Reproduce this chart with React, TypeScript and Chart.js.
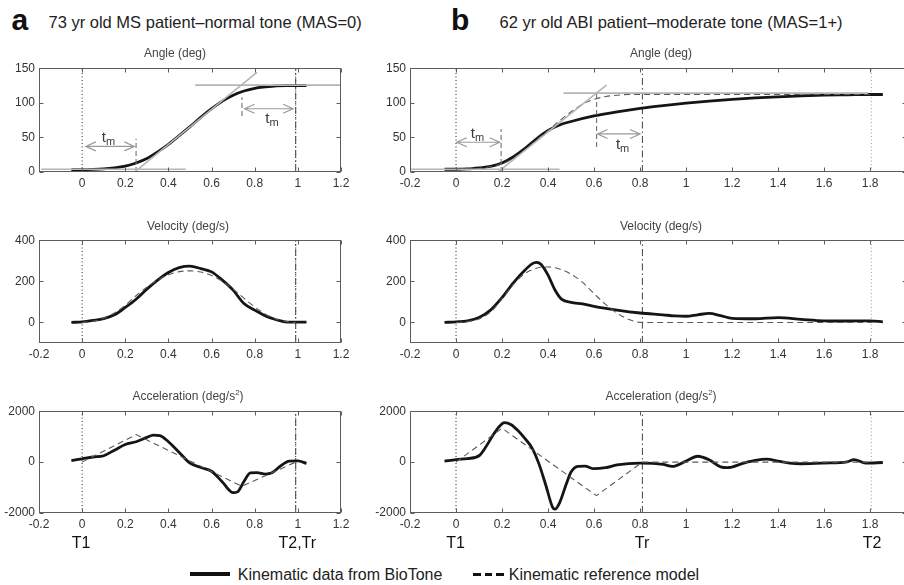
import React, { useEffect, useRef } from 'react';
import { Chart, registerables } from 'chart.js';

Chart.register(...registerables);

const FONT = "'Liberation Sans', Arial, Helvetica, sans-serif";

// ---------- tick labels ----------
const X_TICKS_A = [-0.2, 0, 0.2, 0.4, 0.6, 0.8, 1, 1.2];
const X_TICKS_B = [-0.2, 0, 0.2, 0.4, 0.6, 0.8, 1, 1.2, 1.4, 1.6, 1.8];
const ANGLE_TICKS = [0, 50, 100, 150];
const VEL_TICKS = [0, 200, 400];
const ACC_TICKS = [-2000, 0, 2000];

// ---------- event times ----------
const A_T1 = 0;
const A_T2 = 0.99;
const A_TR = 0.99;
const B_T1 = 0;
const B_TR = 0.81;
const B_T2 = 1.805;

// ---------- panel a : 73 yr old MS patient ----------
const A_T = [-0.05, 0, 0.05, 0.1, 0.15, 0.2, 0.25, 0.3, 0.35, 0.4, 0.45, 0.5, 0.55, 0.6, 0.65, 0.7, 0.75, 0.8, 0.85, 0.9, 0.95, 1.0, 1.04];
const A_ANGLE = [3.5, 3.5, 3.8, 4.5, 6, 8.5, 13, 19.5, 29, 40, 52.5, 65.5, 79, 91.5, 102.5, 111, 117, 121, 123, 124.5, 125, 125, 125];
const A_VEL = [0, 3, 10, 19, 37, 73, 113, 162, 206, 243, 267, 274, 262, 246, 206, 157, 92, 60, 32, 13, 2, 2, 2];
const A_VEL_REF_T = [0, 0.05, 0.1, 0.15, 0.2, 0.25, 0.3, 0.35, 0.4, 0.45, 0.5, 0.55, 0.6, 0.65, 0.7, 0.75, 0.8, 0.85, 0.9, 0.95, 0.99];
const A_VEL_REF = [0, 5, 20, 46, 84, 130, 172, 206, 232, 247, 251, 245, 228, 200, 162, 118, 75, 40, 16, 4, 0];
const A_ACC_T = [-0.05, 0, 0.05, 0.1, 0.15, 0.2, 0.25, 0.3, 0.33, 0.36, 0.4, 0.45, 0.5, 0.55, 0.6, 0.65, 0.7, 0.72, 0.75, 0.78, 0.81, 0.85, 0.88, 0.92, 0.96, 1.0, 1.04];
const A_ACC = [60, 130, 200, 250, 470, 690, 800, 970, 1060, 1040, 800, 380, -40, -210, -360, -780, -1200, -1170, -760, -420, -410, -470, -420, -150, 40, 50, -50];
const A_ACC_REF_T = [0, 0.25, 0.74, 0.99];
const A_ACC_REF = [0, 1080, -950, 0];
// construction lines on the angle plot (data units)
const A_GUIDES: [number, number][][] = [
  [[-0.19, 4], [0.48, 4]],
  [[0.234, -2.4], [0.81, 144]],
  [[0.524, 125.5], [1.2, 125.5]],
];
const A_MARKS: [number, number][][] = [
  [[0.25, 0], [0.25, 48]],
  [[0.741, 81], [0.741, 108]],
];
const A_ARROWS = [[0.017, 0.242, 37], [0.753, 0.978, 91.4]];
const A_TM = [[0.122, 52], [0.88, 78.6]];

// ---------- panel b : 62 yr old ABI patient ----------
const B_ANGLE_T = [-0.05, 0, 0.05, 0.1, 0.15, 0.2, 0.25, 0.3, 0.35, 0.4, 0.45, 0.5, 0.6, 0.7, 0.8, 0.9, 1.0, 1.1, 1.2, 1.3, 1.4, 1.5, 1.6, 1.7, 1.8, 1.855];
const B_ANGLE = [4, 4, 4.5, 6, 8, 13, 22, 34, 48, 60, 68, 73, 81, 87, 92, 96, 99.5, 102.5, 105, 107, 108.6, 110, 111, 111.5, 112, 112];
const B_ANGLE_REF_T = [0, 0.1, 0.2, 0.25, 0.3, 0.35, 0.4, 0.45, 0.5, 0.55, 0.6, 0.65, 0.7, 0.75, 0.81, 1.8];
const B_ANGLE_REF = [3, 5, 12, 20, 32, 46, 60, 74, 87, 98, 105, 109, 111, 112, 112, 112];
const B_VEL_T = [-0.05, 0, 0.05, 0.1, 0.15, 0.2, 0.25, 0.3, 0.33, 0.35, 0.37, 0.4, 0.43, 0.46, 0.5, 0.55, 0.6, 0.7, 0.8, 0.9, 0.95, 1.0, 1.05, 1.1, 1.15, 1.2, 1.3, 1.4, 1.5, 1.6, 1.7, 1.8, 1.855];
const B_VEL = [0, 3, 8, 24, 60, 121, 194, 255, 285, 292, 282, 230, 158, 112, 98, 90, 78, 60, 46, 37, 32, 30, 37, 44, 33, 20, 18, 23, 15, 8, 7, 8, 3];
const B_VEL_REF_T = [0, 0.05, 0.1, 0.15, 0.2, 0.25, 0.3, 0.35, 0.4, 0.45, 0.5, 0.55, 0.6, 0.65, 0.7, 0.75, 0.81, 1.81];
const B_VEL_REF = [0, 4, 17, 50, 115, 185, 238, 264, 270, 260, 235, 195, 140, 88, 45, 15, 0, 0];
const B_ACC_T = [-0.05, 0, 0.05, 0.1, 0.13, 0.16, 0.19, 0.21, 0.24, 0.27, 0.3, 0.33, 0.36, 0.39, 0.42, 0.43, 0.45, 0.48, 0.5, 0.53, 0.56, 0.6, 0.65, 0.7, 0.8, 0.9, 0.94, 1.0, 1.05, 1.1, 1.15, 1.18, 1.25, 1.3, 1.35, 1.4, 1.45, 1.5, 1.6, 1.7, 1.73, 1.78, 1.855];
const B_ACC = [40, 100, 140, 250, 600, 1050, 1420, 1550, 1470, 1230, 920, 560, -60, -900, -1780, -1850, -1600, -840, -390, -170, -160, -260, -220, -110, -40, -90, -170, 40, 230, 90, -190, -220, -40, 65, 115, 40, -40, -65, -40, 13, 100, -40, -15];
const B_ACC_REF_T = [0, 0.2, 0.61, 0.81, 1.81];
const B_ACC_REF = [0, 1330, -1320, 0, 0];
const B_GUIDES: [number, number][][] = [
  [[-0.2, 4], [0.45, 4]],
  [[0.177, -1.4], [0.655, 126]],
  [[0.467, 114], [1.79, 114]],
];
const B_MARKS: [number, number][][] = [
  [[0.196, 0], [0.196, 62]],
  [[0.611, 36], [0.611, 114]],
];
const B_ARROWS = [[0.003, 0.19, 43], [0.615, 0.8, 55]];
const B_TM = [[0.093, 57], [0.724, 40.6]];

// ---------- layout ----------
const WY = 39; // y-axis band
const PT = 10; // top padding
const PR = 14; // right padding
const HX = 22; // x-axis band
const COL_A = [39, 341];
const COL_B = [410, 907];
const ROWS = [[67, 172], [239, 343], [410, 513]];

const pts = (xs: number[], ys: number[]) => xs.map((x, i) => ({ x, y: ys[i] }));
const kin = (xs: number[], ys: number[]) => ({
  data: pts(xs, ys), borderColor: '#151515', borderWidth: 2.8, pointRadius: 0,
  cubicInterpolationMode: 'monotone', fill: false,
});
const ref = (xs: number[], ys: number[], smooth: boolean) => ({
  data: pts(xs, ys), borderColor: '#5a5a5a', borderWidth: 1.1, borderDash: [6, 4], pointRadius: 0,
  fill: false, ...(smooth ? { cubicInterpolationMode: 'monotone' } : { tension: 0 }),
});
const guide = (seg: [number, number][]) => ({
  data: seg.map(([x, y]) => ({ x, y })), borderColor: '#b5b5b5', borderWidth: 1.6, pointRadius: 0, tension: 0,
});
const mark = (seg: [number, number][]) => ({
  data: seg.map(([x, y]) => ({ x, y })), borderColor: '#707070', borderWidth: 1.1, borderDash: [5, 3], pointRadius: 0, tension: 0,
});
const vline = (x: number, yr: number[], kind: 'dot' | 'dashdot' | 'graydot') => ({
  data: [{ x, y: yr[0] }, { x, y: yr[1] }],
  borderColor: kind === 'graydot' ? '#9a9a9a' : kind === 'dot' ? '#222' : '#444',
  borderWidth: 1,
  borderDash: kind === 'dashdot' ? [7, 3, 1.5, 3] : [1, 2.5],
  pointRadius: 0, tension: 0,
});

interface Spec {
  key: string;
  col: number[];
  row: number[];
  xr: number[];
  xTicks: number[];
  hideX: number[];
  yr: number[];
  yTicks: number[];
  datasets: any[];
  arrows: number[][];
  labels: number[][];
}

const A_X = [-0.2, 1.2];
const B_X = [-0.2, 1.96];
const ANG_R = [0, 150];
const VEL_R = [-100, 400];
const ACC_R = [-2000, 2000];

const aLines = (yr: number[]) => [vline(A_TR, yr, 'dashdot'), vline(A_T2, yr, 'dot'), vline(A_T1, yr, 'dot')];
const bLines = (yr: number[]) => [vline(B_TR, yr, 'dashdot'), vline(B_T2, yr, 'graydot'), vline(B_T1, yr, 'dot')];

const SPECS: Spec[] = [
  {
    key: 'aAng', col: COL_A, row: ROWS[0], xr: A_X, xTicks: X_TICKS_A, hideX: [-0.2], yr: ANG_R, yTicks: ANGLE_TICKS,
    datasets: [...A_GUIDES.map(guide), ...A_MARKS.map(mark), kin(A_T, A_ANGLE), ...aLines(ANG_R)],
    arrows: A_ARROWS, labels: A_TM,
  },
  {
    key: 'aVel', col: COL_A, row: ROWS[1], xr: A_X, xTicks: X_TICKS_A, hideX: [], yr: VEL_R, yTicks: VEL_TICKS,
    datasets: [ref(A_VEL_REF_T, A_VEL_REF, true), kin(A_T, A_VEL), ...aLines(VEL_R)],
    arrows: [], labels: [],
  },
  {
    key: 'aAcc', col: COL_A, row: ROWS[2], xr: A_X, xTicks: X_TICKS_A, hideX: [], yr: ACC_R, yTicks: ACC_TICKS,
    datasets: [ref(A_ACC_REF_T, A_ACC_REF, false), kin(A_ACC_T, A_ACC), ...aLines(ACC_R)],
    arrows: [], labels: [],
  },
  {
    key: 'bAng', col: COL_B, row: ROWS[0], xr: B_X, xTicks: X_TICKS_B, hideX: [], yr: ANG_R, yTicks: ANGLE_TICKS,
    datasets: [...B_GUIDES.map(guide), ...B_MARKS.map(mark), ref(B_ANGLE_REF_T, B_ANGLE_REF, true), kin(B_ANGLE_T, B_ANGLE), ...bLines(ANG_R)],
    arrows: B_ARROWS, labels: B_TM,
  },
  {
    key: 'bVel', col: COL_B, row: ROWS[1], xr: B_X, xTicks: X_TICKS_B, hideX: [], yr: VEL_R, yTicks: VEL_TICKS,
    datasets: [ref(B_VEL_REF_T, B_VEL_REF, true), kin(B_VEL_T, B_VEL), ...bLines(VEL_R)],
    arrows: [], labels: [],
  },
  {
    key: 'bAcc', col: COL_B, row: ROWS[2], xr: B_X, xTicks: X_TICKS_B, hideX: [], yr: ACC_R, yTicks: ACC_TICKS,
    datasets: [ref(B_ACC_REF_T, B_ACC_REF, false), kin(B_ACC_T, B_ACC), ...bLines(ACC_R)],
    arrows: [], labels: [],
  },
];

const fmt = (v: number) => String(Math.round(v * 10) / 10);

function makeDecor(spec: Spec) {
  return {
    id: 'decor_' + spec.key,
    afterDatasetsDraw(chart: any) {
      const { ctx, chartArea: a, scales } = chart;
      const xs = scales.x;
      const ys = scales.y;
      ctx.save();
      ctx.setLineDash([]);
      ctx.strokeStyle = '#5c5c5c';
      ctx.lineWidth = 1;
      const L = Math.round(a.left) + 0.5;
      const R = Math.round(a.right) - 0.5;
      const T = Math.round(a.top) + 0.5;
      const B = Math.round(a.bottom) - 0.5;
      ctx.strokeRect(L, T, R - L, B - T);
      ctx.beginPath();
      spec.xTicks.forEach((v) => {
        const px = Math.round(xs.getPixelForValue(v)) + 0.5;
        ctx.moveTo(px, B); ctx.lineTo(px, B - 4);
        ctx.moveTo(px, T); ctx.lineTo(px, T + 4);
      });
      spec.yTicks.forEach((v) => {
        const py = Math.round(ys.getPixelForValue(v)) + 0.5;
        ctx.moveTo(L, py); ctx.lineTo(L + 4, py);
        ctx.moveTo(R, py); ctx.lineTo(R - 4, py);
      });
      ctx.stroke();

      // double arrows
      ctx.strokeStyle = '#9a9a9a';
      ctx.lineWidth = 1.2;
      spec.arrows.forEach(([x1, x2, y]) => {
        const p1 = xs.getPixelForValue(x1);
        const p2 = xs.getPixelForValue(x2);
        const py = ys.getPixelForValue(y);
        ctx.beginPath();
        ctx.moveTo(p1, py); ctx.lineTo(p2, py);
        ctx.moveTo(p1 + 10, py - 4.5); ctx.lineTo(p1, py); ctx.lineTo(p1 + 10, py + 4.5);
        ctx.moveTo(p2 - 10, py - 4.5); ctx.lineTo(p2, py); ctx.lineTo(p2 - 10, py + 4.5);
        ctx.stroke();
      });

      // t_m labels
      ctx.fillStyle = '#3a3a3a';
      ctx.textBaseline = 'alphabetic';
      ctx.textAlign = 'left';
      spec.labels.forEach(([x, y]) => {
        const cx = xs.getPixelForValue(x);
        const cy = ys.getPixelForValue(y);
        ctx.font = `15px ${FONT}`;
        const wt = ctx.measureText('t').width;
        ctx.font = `11px ${FONT}`;
        const wm = ctx.measureText('m').width;
        const x0 = cx - (wt + wm) / 2;
        ctx.font = `15px ${FONT}`;
        ctx.fillText('t', x0, cy + 5.5);
        ctx.font = `11px ${FONT}`;
        ctx.fillText('m', x0 + wt, cy + 8.5);
      });
      ctx.restore();
    },
  };
}

function Panel({ spec }: { spec: Spec }) {
  const cref = useRef<HTMLCanvasElement>(null);
  const [x1, x2] = spec.col;
  const [y1, y2] = spec.row;
  const w = x2 - x1 + WY + PR;
  const h = y2 - y1 + PT + HX;
  useEffect(() => {
    const tickFont = { family: FONT, size: 12 };
    const chart = new Chart(cref.current as HTMLCanvasElement, {
      type: 'line',
      data: { datasets: spec.datasets },
      options: {
        responsive: false,
        animation: false,
        devicePixelRatio: 1,
        events: [],
        layout: { padding: { top: PT, right: PR, left: 0, bottom: 0 } },
        plugins: { legend: { display: false }, tooltip: { enabled: false }, title: { display: false } },
        scales: {
          x: {
            type: 'linear', min: spec.xr[0], max: spec.xr[1], bounds: 'data',
            grid: { display: false, drawTicks: false }, border: { display: false },
            afterBuildTicks: (s: any) => { s.ticks = spec.xTicks.map((v) => ({ value: v })); },
            afterFit: (s: any) => { s.height = HX; },
            ticks: {
              padding: 4, color: '#333', font: tickFont, maxRotation: 0, minRotation: 0, autoSkip: false,
              callback: (v: any) => (spec.hideX.includes(v) ? '' : fmt(v)),
            },
          },
          y: {
            type: 'linear', min: spec.yr[0], max: spec.yr[1], bounds: 'data',
            grid: { display: false, drawTicks: false }, border: { display: false },
            afterBuildTicks: (s: any) => { s.ticks = spec.yTicks.map((v) => ({ value: v })); },
            afterFit: (s: any) => { s.width = WY; },
            ticks: { padding: 4, color: '#333', font: tickFont, autoSkip: false, callback: (v: any) => String(v) },
          },
        },
      } as any,
      plugins: [makeDecor(spec)],
    });
    return () => chart.destroy();
  }, []);
  return (
    <canvas
      ref={cref}
      width={w}
      height={h}
      style={{ position: 'absolute', left: x1 - WY, top: y1 - PT, width: w, height: h }}
    />
  );
}

const txt = (left: number, top: number, size: number, extra: React.CSSProperties = {}): React.CSSProperties => ({
  position: 'absolute', left, top, fontSize: size, lineHeight: 1, fontFamily: FONT, whiteSpace: 'nowrap', ...extra,
});
const centered = (cx: number, top: number, size: number, color: string): React.CSSProperties =>
  txt(cx - 100, top, size, { width: 200, textAlign: 'center', color });

const sup: React.CSSProperties = { fontSize: 8, position: 'relative', top: -5 };

export default function App() {
  return (
    <div style={{ position: 'absolute', left: 0, top: 0, width: 904, height: 585, overflow: 'hidden', background: '#fff' }}>
      {SPECS.map((s) => <Panel key={s.key} spec={s} />)}

      <div style={txt(11.5, 5, 30, { fontWeight: 'bold', color: '#111' })}>a</div>
      <div style={txt(48.5, 14.3, 16.5, { color: '#222' })}>73 yr old MS patient–normal tone (MAS=0)</div>
      <div style={txt(451, 5, 30, { fontWeight: 'bold', color: '#111' })}>b</div>
      <div style={txt(499.5, 14.3, 16.5, { color: '#222' })}>62 yr old ABI patient–moderate tone (MAS=1+)</div>

      <div style={centered(175, 47.1, 12, '#444')}>Angle (deg)</div>
      <div style={centered(188, 219.8, 12, '#444')}>Velocity (deg/s)</div>
      <div style={centered(188, 390.3, 12, '#444')}>Acceleration (deg/s<span style={sup}>2</span>)</div>
      <div style={centered(661, 47.1, 12, '#444')}>Angle (deg)</div>
      <div style={centered(661, 219.8, 12, '#444')}>Velocity (deg/s)</div>
      <div style={centered(661, 390.3, 12, '#444')}>Acceleration (deg/s<span style={sup}>2</span>)</div>

      <div style={centered(81, 534.8, 16, '#111')}>T1</div>
      <div style={centered(297.3, 534.8, 16, '#111')}>T2,Tr</div>
      <div style={centered(455.5, 534.8, 16, '#111')}>T1</div>
      <div style={centered(642, 534.8, 16, '#111')}>Tr</div>
      <div style={centered(872, 534.8, 16, '#111')}>T2</div>

      <div style={{ position: 'absolute', left: 190, top: 572, width: 40, height: 4, background: '#111' }} />
      <div style={txt(237.8, 566.5, 16, { color: '#222' })}>Kinematic data from BioTone</div>
      <div style={{ position: 'absolute', left: 473, top: 573, width: 7.5, height: 3, background: '#111' }} />
      <div style={{ position: 'absolute', left: 484.5, top: 573, width: 7.5, height: 3, background: '#111' }} />
      <div style={{ position: 'absolute', left: 496, top: 573, width: 7.5, height: 3, background: '#111' }} />
      <div style={txt(508.8, 566.5, 16, { color: '#222' })}>Kinematic reference model</div>
    </div>
  );
}
